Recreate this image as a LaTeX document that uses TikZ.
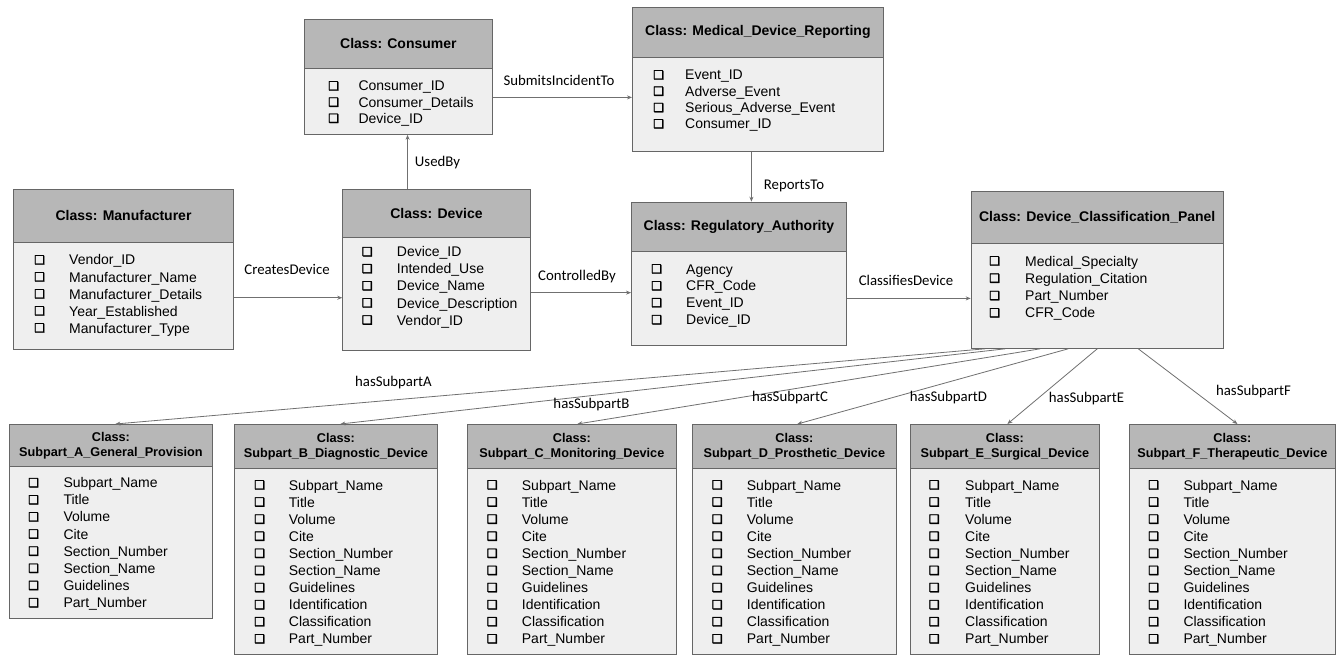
\documentclass[tikz,border=0pt]{standalone}
\usepackage{fontspec}
\setmainfont{Liberation Sans}
\newfontfamily\lblfont{Carlito}
\newfontfamily\djfont[FakeBold=2.5]{DejaVu Sans}
\usetikzlibrary{arrows.meta}
\definecolor{bordc}{HTML}{666666}
\definecolor{hdrc}{HTML}{B7B7B7}
\definecolor{bodyc}{HTML}{EFEFEF}
\definecolor{linec}{HTML}{707070}
\tikzset{
  hdr/.style={draw=bordc, fill=hdrc, line width=0.8pt, inner sep=0pt, align=center,
    font=\fontsize{14}{15}\selectfont\bfseries},
  shdr/.style={hdr, font=\fontsize{12.7}{15}\selectfont\bfseries},
  bdy/.style={draw=bordc, fill=bodyc, line width=0.8pt, inner sep=0pt},
  chk/.style={inner sep=0pt, font=\djfont\fontsize{12}{12}\selectfont},
  itm/.style={inner sep=0pt, font=\fontsize{14}{17}\selectfont},
  lbl/.style={inner sep=0pt, font=\lblfont\fontsize{14.8}{16}\selectfont},
  arr/.style={draw=linec, line width=0.8pt, -{Stealth[length=5pt,width=4pt]}}
}
\newcommand\umlclass[8]{% style, name, l, t, r, hb, b, header
  \pgfmathsetmacro\umlW{#5-#3}\pgfmathsetmacro\umlH{#6-#4}\pgfmathsetmacro\umlB{#7-#6}
  \node[#1, minimum width=\umlW pt, minimum height=\umlH pt, anchor=north west] (#2-h) at (#3,#4) {#8};
  \node[bdy, minimum width=\umlW pt, minimum height=\umlB pt, anchor=north west] (#2-b) at (#3,#6) {};
}
\newcommand\umlitems[6]{% name, cbx, tx, y1, dy, list
  \foreach \umlI [count=\i] in {#6} {
    \pgfmathsetmacro\umlY{#4+(\i-1)*#5}
    \node[chk, anchor=west] (#1-c\i) at (#2,\umlY) {❑};
    \node[itm, anchor=base west] (#1-t\i) at (#3,\umlY+5) {\umlI};
  }
}
\begin{document}
\begin{tikzpicture}[x=1pt,y=-1pt]
\useasboundingbox[fill=white] (0,0) rectangle (1336,655);

% top classes
\umlclass{hdr}{cons}{304}{19}{492}{68}{134}{Class: Consumer}
\umlitems{cons}{328}{358.3}{86}{16.2}{Consumer\_ID, Consumer\_Details, Device\_ID}

\umlclass{hdr}{mdr}{632}{7}{883}{57}{151}{Class: Medical\_Device\_Reporting}
\umlitems{mdr}{653}{685}{75}{16.3}{Event\_ID, Adverse\_Event, Serious\_Adverse\_Event, Consumer\_ID}

\umlclass{hdr}{man}{13.3}{189.3}{233}{241.7}{349}{Class: Manufacturer}
\umlitems{man}{34}{69}{260}{17}{Vendor\_ID, Manufacturer\_Name, Manufacturer\_Details, Year\_Established, Manufacturer\_Type}

\umlclass{hdr}{dev}{342.3}{189.3}{530}{237.3}{350}{Class: Device}
\umlitems{dev}{361.7}{396.7}{251.7}{17.1}{Device\_ID, Intended\_Use, Device\_Name, Device\_Description, Vendor\_ID}

\umlclass{hdr}{reg}{631}{201.7}{846}{251}{345}{Class: Regulatory\_Authority}
\umlitems{reg}{651}{686}{269}{16.9}{Agency, CFR\_Code, Event\_ID, Device\_ID}

\umlclass{hdr}{pan}{970.7}{191}{1223}{243}{348}{Class: Device\_Classification\_Panel}
\umlitems{pan}{989}{1025}{261}{17.3}{Medical\_Specialty, Regulation\_Citation, Part\_Number, CFR\_Code}

% subparts
\umlclass{shdr}{sa}{9}{424}{212}{466}{618}{Class:\\Subpart\_A\_General\_Provision}
\umlitems{sa}{28}{63.3}{482.7}{17.14}{Subpart\_Name, Title, Volume, Cite, Section\_Number, Section\_Name, Guidelines, Part\_Number}

\umlclass{shdr}{sb}{234}{424}{437}{467.7}{654}{Class:\\Subpart\_B\_Diagnostic\_Device}
\umlitems{sb}{254}{288.7}{485}{17.1}{Subpart\_Name, Title, Volume, Cite, Section\_Number, Section\_Name, Guidelines, Identification, Classification, Part\_Number}

\umlclass{shdr}{sc}{467}{424}{676}{467.7}{654}{Class:\\Subpart\_C\_Monitoring\_Device}
\umlitems{sc}{486.7}{521.7}{485}{17.1}{Subpart\_Name, Title, Volume, Cite, Section\_Number, Section\_Name, Guidelines, Identification, Classification, Part\_Number}

\umlclass{shdr}{sd}{692}{424}{896}{467.7}{654}{Class:\\Subpart\_D\_Prosthetic\_Device}
\umlitems{sd}{711.7}{746.7}{485}{17.1}{Subpart\_Name, Title, Volume, Cite, Section\_Number, Section\_Name, Guidelines, Identification, Classification, Part\_Number}

\umlclass{shdr}{se}{910}{424}{1099}{467.7}{654}{Class:\\Subpart\_E\_Surgical\_Device}
\umlitems{se}{928.7}{965}{485}{17.1}{Subpart\_Name, Title, Volume, Cite, Section\_Number, Section\_Name, Guidelines, Identification, Classification, Part\_Number}

\umlclass{shdr}{sf}{1129}{424}{1335}{467.7}{654}{Class:\\Subpart\_F\_Therapeutic\_Device}
\umlitems{sf}{1148}{1183.3}{485}{17.1}{Subpart\_Name, Title, Volume, Cite, Section\_Number, Section\_Name, Guidelines, Identification, Classification, Part\_Number}

% connectors
\draw[arr] ([yshift=4pt]cons-b.east) -- ([yshift=4pt]cons-b.east -| mdr-b.west);
\draw[arr] ([xshift=-29pt]dev-h.north) -- ([xshift=-29pt]dev-h.north |- cons-b.south);
\draw[arr] ([xshift=-6.5pt]mdr-b.south) -- ([xshift=-6.5pt]mdr-b.south |- reg-h.north);
\draw[arr] ([yshift=-2pt]man-b.east) -- ([yshift=-2pt]man-b.east -| dev-b.west);
\draw[arr] ([yshift=1.4pt]dev-b.east) -- ([yshift=1.4pt]dev-b.east -| reg-b.west);
\draw[arr] (reg-b.east) -- (reg-b.east -| pan-b.west);

\draw[arr] ([xshift=-112pt]pan-b.south) -- ([xshift=4.5pt]sa-h.north);
\draw[arr] ([xshift=-92pt]pan-b.south) -- ([xshift=4.5pt]sb-h.north);
\draw[arr] ([xshift=-57pt]pan-b.south) -- ([xshift=5.5pt]sc-h.north);
\draw[arr] ([xshift=-29pt]pan-b.south) -- ([xshift=3pt]sd-h.north);
\draw[arr] ([xshift=0pt]pan-b.south) -- ([xshift=2.5pt]se-h.north);
\draw[arr] ([xshift=41pt]pan-b.south) -- ([xshift=5pt]sf-h.north);

% labels
\node[lbl, anchor=base] (l1) at (559,86) {SubmitsIncidentTo};
\node[lbl, anchor=base] (l2) at (437.5,167) {UsedBy};
\node[lbl, anchor=base] (l3) at (794,190) {ReportsTo};
\node[lbl, anchor=base] (l4) at (287,274.3) {CreatesDevice};
\node[lbl, anchor=base] (l5) at (577,280) {ControlledBy};
\node[lbl, anchor=base] (l6) at (906,285.5) {ClassifiesDevice};
\node[lbl, anchor=base] (l7) at (393.5,386) {hasSubpartA};
\node[lbl, anchor=base] (l8) at (591.5,408) {hasSubpartB};
\node[lbl, anchor=base] (l9) at (790,401) {hasSubpartC};
\node[lbl, anchor=base] (l10) at (948.5,401.7) {hasSubpartD};
\node[lbl, anchor=base] (l11) at (1086.5,402) {hasSubpartE};
\node[lbl, anchor=base] (l12) at (1253.5,395.7) {hasSubpartF};
\end{tikzpicture}
\end{document}
